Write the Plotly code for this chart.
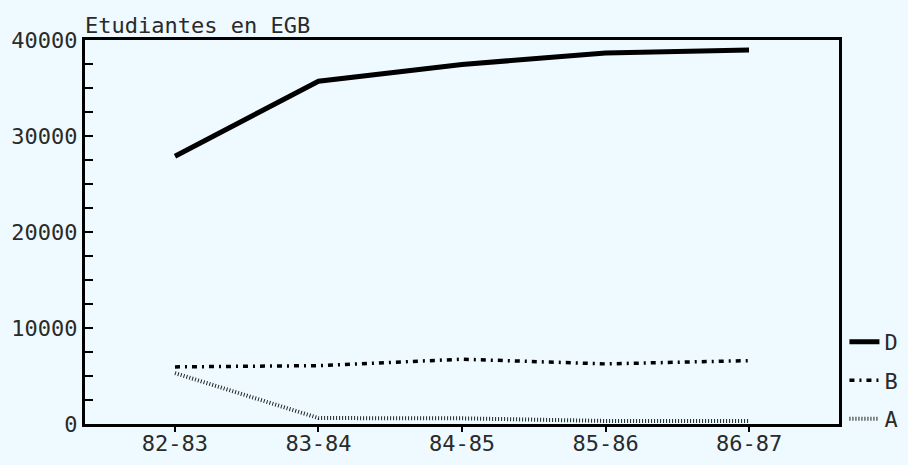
import plotly.graph_objects as go

categories = ["82-83", "83-84", "84-85", "85-86", "86-87"]
serie_D = [27900, 35700, 37450, 38650, 38950]
serie_B = [5950, 6080, 6750, 6260, 6600]
serie_A = [5300, 620, 590, 320, 300]
y_ticks = [0, 10000, 20000, 30000, 40000]
y_tick_labels = ["0", "10000", "20000", "30000", "40000"]
title_text = "Etudiantes en EGB"

BG = "#eefaff"
INK = "#2a2a2a"
FONT = "DejaVu Sans Mono"

fig = go.Figure()
fig.add_trace(go.Scatter(x=categories, y=serie_D, name="D", mode="lines",
                         line=dict(color="#000000", width=5), legendgroup="D"))
fig.add_trace(go.Scatter(x=categories, y=serie_B, name="B", mode="lines",
                         line=dict(color="#000000", width=3.5, dash="5px,5px,2px,5px"),
                         legendgroup="B"))
fig.add_trace(go.Scatter(x=categories, y=serie_A, name="A", mode="lines",
                         line=dict(color="#222222", width=4, dash="1px,2px"),
                         legendgroup="A"))

fig.update_layout(
    width=908, height=465,
    margin=dict(l=85, r=69, t=40, b=41, autoexpand=False),
    paper_bgcolor=BG, plot_bgcolor=BG,
    font=dict(family=FONT, size=22, color=INK),
    showlegend=True,
    legend=dict(xref="container", yref="container", x=0.93, xanchor="left",
                y=0.182, yanchor="middle",
                bgcolor="rgba(0,0,0,0)", tracegroupgap=7,
                font=dict(family=FONT, size=22, color=INK)),
    annotations=[dict(text=title_text, xref="paper", yref="paper", x=-0.003, y=1.0,
                      xanchor="left", yanchor="bottom", showarrow=False,
                      font=dict(family=FONT, size=22, color=INK))],
)
fig.update_xaxes(type="category", categoryorder="array", categoryarray=categories,
                 range=[-0.627, 4.627], showgrid=False, zeroline=False, automargin=False,
                 showline=True, linecolor="#000000", linewidth=3, mirror=True,
                 ticks="outside", ticklen=5, tickwidth=1.5, tickcolor="#000000",
                 ticklabelstandoff=-7,
                 tickfont=dict(family=FONT, size=22, color=INK))
fig.update_yaxes(range=[0, 40000], tickvals=y_ticks, ticktext=y_tick_labels,
                 showgrid=False, zeroline=False, automargin=False,
                 showline=True, linecolor="#000000", linewidth=3, mirror=True,
                 ticks="inside", ticklen=8, tickwidth=1.5, tickcolor="#000000",
                 minor=dict(dtick=2500, ticks="inside", ticklen=8, tickwidth=1.5,
                            tickcolor="#000000", showgrid=False),
                 tickfont=dict(family=FONT, size=22, color=INK))

fig.write_html("out.html", config={"displayModeBar": False},
               post_script="document.body.style.margin='0px';document.body.style.background='%s';" % BG)
